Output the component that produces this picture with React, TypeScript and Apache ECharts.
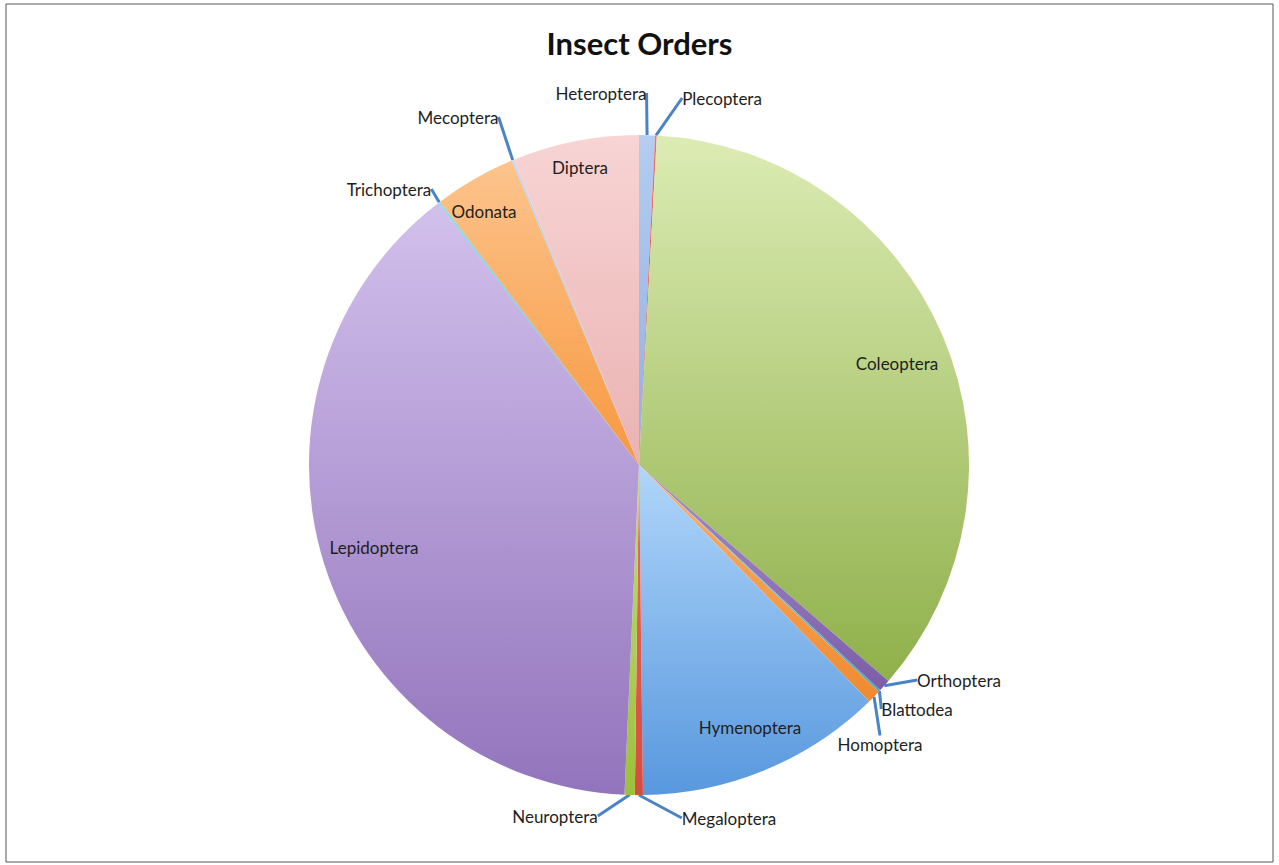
import React, { useEffect, useRef } from "react";
import * as echarts from "echarts";

const categories = [
  "Heteroptera", "Plecoptera", "Coleoptera", "Orthoptera", "Blattodea", "Homoptera", "Hymenoptera",
  "Megaloptera", "Neuroptera", "Lepidoptera", "Trichoptera", "Odonata", "Mecoptera", "Diptera",
];
const values = [0.78, 0.08, 35.5, 0.6, 0.1, 0.65, 12.1, 0.39, 0.5, 38.9, 0.1, 4.0, 0.1, 6.2];

const colorTop = [
  "#b4cdf0", "#f07070", "#dcecb4", "#a58cc8", "#7fd8ec", "#fbb06a", "#b0d6fa",
  "#ee6a5e", "#bedf78", "#d2c0ec", "#7fe0f0", "#fcc48c", "#c0d8f4", "#f8d4d4",
];
const colorBottom = [
  "#8fb0e0", "#d0504d", "#8fb04a", "#7c5ea8", "#4bacc6", "#f08a30", "#5898de",
  "#d64c40", "#9cc03c", "#9274bc", "#4bc0d8", "#f89840", "#a4c0e6", "#eab2b2",
];
const insideLabel = [false, false, true, false, false, false, true, false, false, true, false, true, false, true];
const labelPos: [number, number][] = [
  [601, 93], [722, 98], [897, 363], [959, 680], [917, 709], [880, 744], [750, 727],
  [729, 818], [555, 816], [374, 547], [389, 189], [484, 211], [458, 117], [580, 167],
];

export default function App() {
  const ref = useRef<HTMLDivElement>(null);
  useEffect(() => {
    if (!ref.current) return;
    const chart = echarts.init(ref.current, null, { renderer: "svg" });
    const data = categories.map((name, i) => ({
      name,
      value: values[i],
      itemStyle: {
        color: new echarts.graphic.LinearGradient(0, 0, 0, 1, [
          { offset: 0, color: colorTop[i] },
          { offset: 1, color: colorBottom[i] },
        ]),
      },
      label: { position: insideLabel[i] ? "inside" : "outside" },
      labelLine: { show: !insideLabel[i] },
    }));
    chart.setOption({
      animation: false,
      backgroundColor: "#ffffff",
      title: {
        text: "Insect Orders",
        left: "center",
        top: 22,
        textStyle: { fontFamily: "Lato", fontWeight: "bold", fontSize: 31, color: "#111" },
      },
      graphic: [
        {
          type: "rect",
          shape: { x: 6, y: 4, width: 1267, height: 858 },
          style: { fill: "none", stroke: "#555", lineWidth: 1 },
          silent: true,
        },
      ],
      series: [
        {
          type: "pie",
          center: [639, 465],
          radius: [0, 330],
          startAngle: 90,
          clockwise: true,
          avoidLabelOverlap: false,
          data,
          itemStyle: { borderWidth: 0 },
          label: {
            show: true,
            formatter: "{b}",
            fontFamily: "Lato",
            fontSize: 17,
            color: "#1e1e1e",
          },
          labelLine: {
            show: true,
            length: 0,
            length2: 0,
            smooth: false,
            lineStyle: { color: "#4a84c4", width: 3 },
          },
          labelLayout: (params: any) => {
            const p = labelPos[params.dataIndex];
            return { x: p[0], y: p[1], align: "center", verticalAlign: "middle" };
          },
          emphasis: { disabled: true },
        },
      ],
    });
    return () => chart.dispose();
  }, []);
  return (
    <div
      ref={ref}
      style={{ position: "fixed", left: 0, top: 0, width: 1279, height: 865, background: "#fff" }}
    />
  );
}
